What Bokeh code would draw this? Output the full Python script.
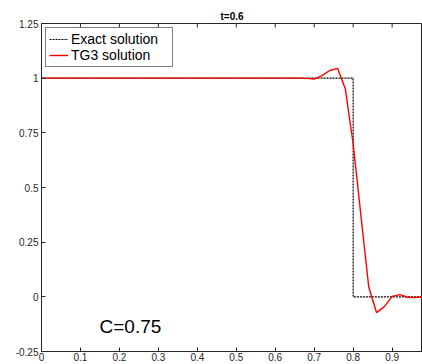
import math
from bokeh.plotting import figure
from bokeh.models import Legend, LegendItem, Label, FixedTicker, Range1d, ColumnDataSource
from bokeh.embed import file_html
from bokeh.resources import INLINE

# Data
tg3_x = [0.0, 0.64, 0.66, 0.68, 0.70, 0.72, 0.74, 0.76, 0.78, 0.80, 0.82, 0.84,
         0.86, 0.88, 0.90, 0.92, 0.94, 0.96, 0.98]
tg3_y = [1.0, 1.0, 1.0, 0.999, 0.996, 1.012, 1.035, 1.045, 0.95, 0.70, 0.37, 0.045,
         -0.072, -0.045, 0.002, 0.010, -0.002, -0.003, 0.0]
exact_x = [0.0, 0.8, 0.8, 0.98]
exact_y = [1.0, 1.0, 0.0, 0.0]

x_ticks = [0, 0.1, 0.2, 0.3, 0.4, 0.5, 0.6, 0.7, 0.8, 0.9]
x_tick_labels = ["0", "0.1", "0.2", "0.3", "0.4", "0.5", "0.6", "0.7", "0.8", "0.9"]
y_ticks = [-0.25, 0, 0.25, 0.5, 0.75, 1, 1.25]
y_tick_labels = ["-0.25", "0", "0.25", "0.5", "0.75", "1", "1.25"]
x_min, x_max = 0.0, 0.978
y_min, y_max = -0.25, 1.25

title_text = "t=0.6"
annotation_text = "C=0.75"

FONT = "Liberation Sans"
AX = "#262626"

p = figure(width=422, height=364, x_range=Range1d(x_min, x_max), y_range=Range1d(y_min, y_max),
           output_backend="svg", toolbar_location=None,
           min_border_left=41, min_border_right=0, min_border_top=23, min_border_bottom=13)
p.xgrid.visible = False
p.ygrid.visible = False
p.outline_line_color = AX
p.outline_line_width = 1

p.title.text = title_text
p.title.align = "center"
p.title.text_font = FONT
p.title.text_font_size = "10px"
p.title.text_font_style = "bold"
p.title.text_color = "black"
p.title.standoff = 3
p.title.offset = 0

for ax in p.xaxis + p.yaxis:
    ax.axis_line_color = AX
    ax.major_tick_line_color = AX
    ax.major_tick_out = 0
    ax.major_tick_in = 4
    ax.minor_tick_line_color = None
    ax.major_label_text_font = FONT
    ax.major_label_text_font_size = "10px"
    ax.major_label_text_color = AX
    ax.major_label_standoff = 3
p.xaxis.major_label_standoff = 1

p.xaxis.ticker = FixedTicker(ticks=x_ticks)
p.xaxis.major_label_overrides = {t: l for t, l in zip(x_ticks, x_tick_labels)}
p.yaxis.ticker = FixedTicker(ticks=y_ticks)
p.yaxis.major_label_overrides = {t: l for t, l in zip(y_ticks, y_tick_labels)}

# inward tick marks along the top edge of the box (half of each dash is clipped by the frame)
p.scatter(x=x_ticks, y=[y_max] * len(x_ticks), marker="dash", angle=math.pi / 2,
          size=8, line_color=AX, line_width=1)

src_exact = ColumnDataSource(dict(x=exact_x, y=exact_y))
src_tg3 = ColumnDataSource(dict(x=tg3_x, y=tg3_y))
r_exact = p.line("x", "y", source=src_exact, line_color="black", line_width=1.2, line_dash="2 1")
r_tg3 = p.line("x", "y", source=src_tg3, line_color="#ff0000", line_width=1.4)

legend = Legend(items=[LegendItem(label="Exact solution", renderers=[r_exact]),
                       LegendItem(label="TG3 solution", renderers=[r_tg3])],
                location="top_left", margin=4, padding=3, spacing=0,
                label_text_font=FONT, label_text_font_size="14px", label_text_color="black",
                glyph_width=19, glyph_height=16, label_height=16, label_width=98,
                label_standoff=3, border_line_color="black", border_line_width=1,
                background_fill_color="white", background_fill_alpha=1)
p.add_layout(legend)

p.add_layout(Label(x=0.149, y=-0.135, text=annotation_text, text_font=FONT,
                   text_font_size="19px", text_color="black", text_baseline="alphabetic"))

open("out.html", "w").write(file_html(p, INLINE))
